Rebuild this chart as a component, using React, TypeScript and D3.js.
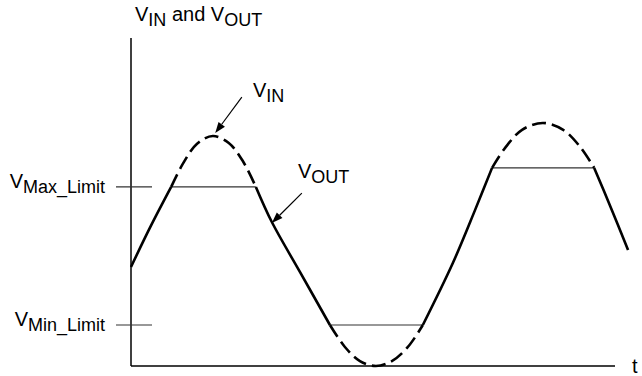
import React from "react";
import * as d3 from "d3";

// V_IN waveform samples (time, volts)
const vinT = [0, 0.41, 0.83, 1.07, 1.36, 1.69, 2.02, 2.31, 2.58, 2.91, 3.49, 4.11, 4.42, 4.73, 5.06, 5.39, 5.72, 6.03, 6.65, 7.11, 7.46, 7.73, 8.08, 8.51, 8.93, 9.28, 9.57, 9.9, 10.27];
const vinV = [3.02, 4.27, 5.46, 6.16, 6.77, 7.01, 6.8, 6.25, 5.46, 4.39, 2.87, 1.25, 0.58, 0.15, 0.0, 0.15, 0.58, 1.25, 3.14, 4.76, 6.04, 6.65, 7.2, 7.41, 7.2, 6.68, 6.04, 4.88, 3.54];

// Clipping intervals of V_OUT
const clipStart = [0.83, 4.11, 7.46];
const clipEnd = [2.58, 6.03, 9.57];
const clipLevel = [5.46, 1.25, 6.04];

// Axis limit ticks
const limitNames = ["Max_Limit", "Min_Limit"];
const limitValues = [5.46, 1.25];

// Annotations (data coords): label, arrow tip, arrow tail, text anchor
const annLabels = ["IN", "OUT"];
const annTipT = [1.74, 2.91];
const annTipV = [7.1, 4.36];
const annTailT = [2.29, 3.53];
const annTailV = [8.2, 5.27];
const annTextT = [2.52, 3.45];
const annTextV = [8.2, 5.73];

export default function App() {
  const W = 642, H = 376;
  const x = d3.scaleLinear().domain([0, 10]).range([131, 615]);
  const y = d3.scaleLinear().domain([0, 10]).range([366, 38]);
  const pts = vinT.map((t, i) => [t, vinV[i]] as [number, number]);
  const line = d3
    .line<[number, number]>()
    .x((d) => x(d[0]))
    .y((d) => y(d[1]))
    .curve(d3.curveCatmullRom.alpha(0.5));

  const eps = 1e-6;
  const dashed = clipStart.map((s, i) =>
    pts.filter((p) => p[0] >= s - eps && p[0] <= clipEnd[i] + eps)
  );
  const bounds = [-Infinity, ...clipStart.flatMap((s, i) => [s, clipEnd[i]]), Infinity];
  const solid: [number, number][][] = [];
  for (let i = 0; i < bounds.length; i += 2) {
    const a = bounds[i], b = bounds[i + 1];
    const seg = pts.filter((p) => p[0] >= a - eps && p[0] <= b + eps);
    if (seg.length > 1) solid.push(seg);
  }

  const font = "'Liberation Sans', Arial, Helvetica, sans-serif";
  const sub = (txt: string, key?: string) => (
    <tspan key={key} dy={5} fontSize={18}>{txt}</tspan>
  );

  const arrow = (i: number) => {
    const x1 = x(annTailT[i]), y1 = y(annTailV[i]);
    const x2 = x(annTipT[i]), y2 = y(annTipV[i]);
    const ang = Math.atan2(y2 - y1, x2 - x1);
    const L = 11, Wd = 4;
    const bx = x2 - L * Math.cos(ang), by = y2 - L * Math.sin(ang);
    const px = -Math.sin(ang) * Wd, py = Math.cos(ang) * Wd;
    return (
      <g key={"a" + i}>
        <line x1={x1} y1={y1} x2={bx} y2={by} stroke="#000" strokeWidth={1.2} />
        <path d={`M${x2},${y2}L${bx + px},${by + py}L${bx - px},${by - py}Z`} fill="#000" />
      </g>
    );
  };

  return (
    <svg
      width={W}
      height={H}
      style={{ position: "absolute", left: 0, top: 0, background: "#fff" }}
      fontFamily={font}
    >
      <rect width={W} height={H} fill="#fff" />
      {/* axes */}
      <line x1={x(0)} y1={y(10)} x2={x(0)} y2={y(0)} stroke="#000" strokeWidth={1.5} />
      <line x1={x(0)} y1={y(0)} x2={x(10)} y2={y(0)} stroke="#000" strokeWidth={1.5} />
      <text x={x(10) + 17} y={y(0) + 7} fontSize={20}>t</text>
      {/* title */}
      <text x={135} y={21} fontSize={20}>
        <tspan>V</tspan>
        {sub("IN")}
        <tspan dy={-5}> and V</tspan>
        {sub("OUT")}
      </text>
      {/* limit ticks */}
      {limitValues.map((v, i) => (
        <g key={"t" + i}>
          <line x1={x(0) - 15} x2={x(0) + 21} y1={y(v)} y2={y(v)} stroke="#333" strokeWidth={1.2} />
          <text x={x(0) - 26} y={y(v) + 1} fontSize={20} textAnchor="end">
            <tspan>V</tspan>
            {sub(limitNames[i])}
          </text>
        </g>
      ))}
      {/* clip level lines */}
      {clipStart.map((s, i) => (
        <line key={"c" + i} x1={x(s)} x2={x(clipEnd[i])} y1={y(clipLevel[i])} y2={y(clipLevel[i])} stroke="#333" strokeWidth={1.2} />
      ))}
      {/* V_OUT solid parts */}
      {solid.map((seg, i) => (
        <path key={"s" + i} d={line(seg) || ""} fill="none" stroke="#000" strokeWidth={2.6} />
      ))}
      {/* V_IN dashed parts */}
      {dashed.map((seg, i) => (
        <path key={"d" + i} d={line(seg) || ""} fill="none" stroke="#000" strokeWidth={2.6} strokeDasharray="14 6" />
      ))}
      {/* annotations */}
      {annLabels.map((lab, i) => (
        <g key={"n" + i}>
          {arrow(i)}
          <text x={x(annTextT[i])} y={y(annTextV[i])} fontSize={20}>
            <tspan>V</tspan>
            {sub(lab)}
          </text>
        </g>
      ))}
    </svg>
  );
}
